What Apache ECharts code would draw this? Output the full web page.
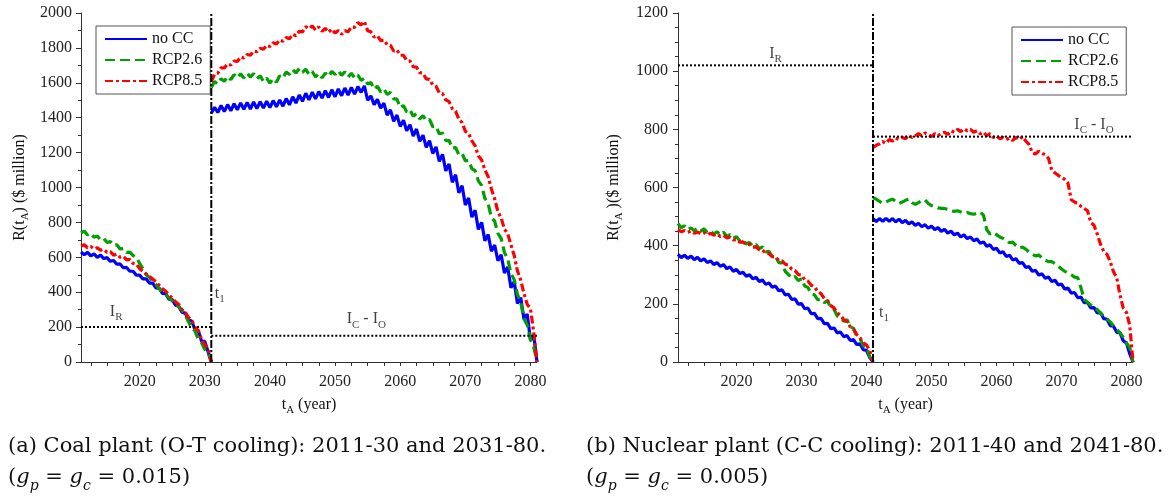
<!DOCTYPE html>
<html>
<head>
<meta charset="utf-8">
<title>R(tA) coal vs nuclear</title>
<script src="https://cdn.jsdelivr.net/npm/echarts@6/dist/echarts.min.js"></script>
<style>
  html, body { margin: 0; padding: 0; background: #fff; }
  #chart { width: 1168px; height: 499px; }
</style>
</head>
<body>
<div id="chart"></div>
<script>
// ---- data (values every half year) ----
const scenarios = ['no CC', 'RCP2.6', 'RCP8.5'];
const labelYears = [2020, 2030, 2040, 2050, 2060, 2070, 2080];
const tickYears = [2012.5, 2015, 2017.5, 2020, 2022.5, 2025, 2027.5, 2030, 2032.5, 2035, 2037.5, 2040,
  2042.5, 2045, 2047.5, 2050, 2052.5, 2055, 2057.5, 2060, 2062.5, 2065, 2067.5, 2070, 2072.5, 2075, 2077.5, 2080];

// (a) coal plant: first period 2011-2031, second period 2031-2081
const coalT1 = 2031, coalIR = 200, coalICIO = 150;
const coalNoCC1 = [630,615,628,608,620,600,612,593,598,577,582,560,562,540,542,520,520,497,498,476,
  477,452,452,425,423,393,392,360,358,325,320,285,280,240,235,185,180,120,118,60,0];
const coalRcp26_1 = [740,750,728,738,715,722,700,708,685,690,668,672,648,650,628,630,610,600,565,535,
  500,485,460,445,420,400,385,370,350,335,318,298,270,230,195,178,130,112,72,58,0];
const coalRcp85_1 = [665,672,655,662,648,655,640,645,628,632,612,618,600,605,585,588,565,560,535,520,
  505,490,475,460,440,420,405,385,365,345,330,300,285,255,240,200,180,130,100,75,0];
const coalNoCC2 = [1425,1460,1430,1470,1435,1475,1440,1480,1445,1485,
  1448,1488,1450,1490,1452,1492,1455,1494,1458,1498,
  1462,1502,1466,1510,1474,1520,1484,1530,1494,1540,
  1502,1546,1508,1550,1512,1555,1516,1560,1520,1565,
  1526,1570,1530,1574,1535,1578,1545,1582,1500,1525,
  1475,1505,1455,1483,1415,1445,1380,1415,1350,1385,
  1325,1360,1295,1335,1265,1300,1230,1268,1195,1233,
  1150,1190,1095,1135,1030,1073,970,1010,900,940,
  830,870,760,800,695,730,635,670,580,615,
  510,545,425,460,335,370,245,275,125,155,0];
const coalRcp26_2 = [1573,1607,1593,1624,1608,1637,1618,1647,1628,1652,
  1628,1655,1633,1652,1623,1640,1608,1627,1598,1624,
  1603,1640,1628,1662,1648,1676,1656,1682,1660,1678,
  1648,1665,1633,1654,1628,1656,1636,1666,1648,1670,
  1643,1662,1633,1655,1628,1645,1613,1627,1593,1602,
  1563,1580,1548,1565,1533,1545,1508,1507,1458,1470,
  1433,1445,1408,1424,1393,1412,1383,1390,1348,1352,
  1308,1312,1268,1270,1223,1230,1188,1195,1153,1155,
  1108,1097,1038,1012,938,907,828,807,738,707,
  628,592,508,472,388,342,248,212,128,87,0];
const coalRcp85_2 = [1605,1650,1655,1685,1685,1708,1702,1725,1722,1748,
  1742,1762,1758,1782,1778,1798,1792,1815,1808,1830,
  1822,1845,1838,1860,1852,1878,1870,1895,1892,1922,
  1910,1925,1902,1920,1895,1912,1890,1908,1885,1900,
  1878,1898,1892,1920,1918,1945,1932,1952,1898,1892,
  1862,1870,1842,1845,1818,1815,1782,1788,1758,1758,
  1728,1725,1692,1690,1658,1655,1622,1620,1588,1580,
  1542,1538,1502,1492,1452,1438,1392,1372,1322,1310,
  1268,1238,1182,1158,1102,1062,992,935,862,825,
  762,735,672,610,522,470,392,330,305,170,0];

// (b) nuclear plant: first period 2011-2041, second period 2041-2081
const nucT1 = 2041, nucIR = 1020, nucICIO = 775;
const nucNoCC1 = [370,359,367,356,364,352,360,348,355,342,348,335,342,329,335,321,327,312,318,304,
  309,295,300,286,291,277,282,267,272,257,261,245,248,231,233,215,217,199,201,183,
  185,166,167,149,150,132,133,115,117,100,103,87,91,74,77,60,63,42,40,15,0];
const nucRcp26_1 = [476,462,468,455,461,451,461,450,458,445,451,440,448,437,446,432,438,425,431,416,
  421,406,411,398,404,390,396,378,381,362,364,342,341,311,301,288,294,280,286,261,
  256,234,231,214,216,204,211,186,181,158,154,140,146,121,116,89,81,56,51,18,0];
const nucRcp85_1 = [455,448,452,446,450,443,447,440,445,438,442,436,440,432,435,427,429,420,421,412,
  413,404,405,395,396,386,385,374,373,362,361,349,348,336,333,319,315,301,298,283,
  278,264,258,242,235,218,211,194,186,169,161,145,138,121,113,94,83,66,58,40,0];
const nucNoCC2 = [493,483,493,484,494,484,493,482,491,479,487,475,482,470,477,465,472,460,467,455,
  462,449,456,443,450,437,443,430,437,424,430,417,423,408,413,398,403,387,391,375,
  379,363,367,351,355,339,342,325,328,312,315,299,303,288,292,277,281,265,268,251,
  254,237,239,221,223,204,205,186,187,169,170,149,147,125,123,102,100,73,65,28,0];
const nucRcp26_2 = [565,560,552,546,550,556,560,552,545,550,556,560,548,542,548,555,558,545,538,535,
  530,528,528,525,520,518,520,516,512,514,510,508,512,515,505,455,440,445,438,430,
  425,418,410,412,400,392,395,388,378,370,365,368,358,350,345,345,338,330,320,312,
  305,300,292,290,255,215,205,196,188,180,168,158,148,138,124,112,100,85,65,50,0];
const nucRcp85_2 = [738,745,750,758,752,765,760,770,765,772,768,780,772,778,785,778,788,782,775,785,
  778,786,790,782,795,790,800,792,802,795,800,790,795,785,790,778,785,772,778,768,
  772,765,770,762,772,765,775,760,748,720,715,725,718,712,700,660,650,642,635,628,
  615,558,550,545,535,528,520,480,470,440,405,380,370,345,310,290,230,185,170,125,0];

// ---- styling ----
const SERIF = '"Liberation Serif", "DejaVu Serif", serif';
const CAP_FONT = '"DejaVu Serif", serif';
const colors = ['#0000ff', '#00a000', '#ff0000'];
const dashes = ['solid', [10, 5], [8, 3, 3, 3]];
const subRich = {
  b: { fontFamily: SERIF, fontSize: 16, color: '#111', lineHeight: 22 },
  s: { fontFamily: SERIF, fontSize: 11, color: '#111', lineHeight: 10, verticalAlign: 'bottom' }
};

function pts(arr, start) {
  return arr.map((v, i) => [start + i * 0.5, v]);
}

function lineSeries(gi, k, arr, start) {
  return {
    name: scenarios[k], type: 'line', xAxisIndex: gi, yAxisIndex: gi,
    data: pts(arr, start), symbol: 'none', showSymbol: false, z: 3 + k,
    lineStyle: { color: colors[k], width: 3.2, type: dashes[k] },
    itemStyle: { color: colors[k] }
  };
}

function refLine(gi, data, type) {
  return {
    type: 'line', xAxisIndex: gi, yAxisIndex: gi, data: data, symbol: 'none', z: 6,
    lineStyle: { color: '#000', width: 2, type: type }, silent: true
  };
}

function note(gi, x, y, text) {
  return {
    type: 'scatter', xAxisIndex: gi, yAxisIndex: gi, symbolSize: 1, silent: true, z: 8,
    itemStyle: { color: 'rgba(0,0,0,0)' },
    data: [[x, y]],
    label: { show: true, position: 'inside', formatter: text, rich: subRich }
  };
}

function xAx(gi) {
  return {
    type: 'value', gridIndex: gi, min: 2011, max: 2081,
    splitLine: { show: false },
    axisLine: { lineStyle: { color: '#333', width: 1 } },
    axisTick: { customValues: tickYears, length: 4, lineStyle: { color: '#333' } },
    axisLabel: {
      customValues: labelYears, fontFamily: SERIF, fontSize: 16, color: '#222', margin: 12,
      formatter: (v) => String(v)
    },
    name: '{b|t}{s|A}{b| (year)}', nameLocation: 'middle', nameGap: 32,
    nameTextStyle: { rich: subRich }
  };
}

function yAx(gi, max, minorSplit, nameText, gap, labelMargin) {
  return {
    type: 'value', gridIndex: gi, min: 0, max: max, interval: 200,
    splitLine: { show: false },
    axisLine: { show: true, lineStyle: { color: '#333', width: 1 } },
    axisTick: { length: 5, lineStyle: { color: '#333' } },
    minorTick: { show: true, splitNumber: minorSplit, length: 3, lineStyle: { color: '#333' } },
    axisLabel: {
      fontFamily: SERIF, fontSize: 16, color: '#222', margin: labelMargin,
      formatter: (v) => String(v)
    },
    name: nameText, nameLocation: 'middle', nameRotate: 90, nameGap: gap,
    nameTextStyle: { rich: subRich }
  };
}

function legendAt(left, top) {
  return {
    data: scenarios, orient: 'vertical', left: left, top: top,
    itemWidth: 42, itemHeight: 14, itemGap: 5, padding: [5, 8, 5, 8],
    borderColor: '#555', borderWidth: 1, backgroundColor: '#fff',
    itemStyle: { opacity: 0 },
    lineStyle: { opacity: 1 },
    textStyle: { fontFamily: SERIF, fontSize: 16, color: '#111' }
  };
}

const captionRich = {
  g: { fontFamily: CAP_FONT, fontSize: 21, fontStyle: 'italic', color: '#111', lineHeight: 31 },
  s: { fontFamily: CAP_FONT, fontSize: 14, fontStyle: 'italic', color: '#111', lineHeight: 20, verticalAlign: 'bottom' }
};

const series = [];
[[coalNoCC1, coalNoCC2], [coalRcp26_1, coalRcp26_2], [coalRcp85_1, coalRcp85_2]].forEach((pair, k) => {
  series.push(lineSeries(0, k, pair[0], 2011));
  series.push(lineSeries(0, k, pair[1], coalT1));
});
[[nucNoCC1, nucNoCC2], [nucRcp26_1, nucRcp26_2], [nucRcp85_1, nucRcp85_2]].forEach((pair, k) => {
  series.push(lineSeries(1, k, pair[0], 2011));
  series.push(lineSeries(1, k, pair[1], nucT1));
});

// t1 marker and investment levels
series.push(refLine(0, [[coalT1, 0], [coalT1, 2000]], [8, 2, 2, 2]));
series.push(refLine(0, [[2011, coalIR], [coalT1, coalIR]], [2, 2]));
series.push(refLine(0, [[coalT1, coalICIO], [2081, coalICIO]], [2, 2]));
series.push(refLine(1, [[nucT1, 0], [nucT1, 1200]], [8, 2, 2, 2]));
series.push(refLine(1, [[2011, nucIR], [nucT1, nucIR]], [2, 2]));
series.push(refLine(1, [[nucT1, nucICIO], [2081, nucICIO]], [2, 2]));

series.push(note(0, 2016.4, 290, '{b|I}{s|R}'));
series.push(note(0, 2054.8, 245, '{b|I}{s|C}{b| - I}{s|O}'));
series.push(note(0, 2032.3, 390, '{b|t}{s|1}'));
series.push(note(1, 2026.0, 1060, '{b|I}{s|R}'));
series.push(note(1, 2075.0, 815, '{b|I}{s|C}{b| - I}{s|O}'));
series.push(note(1, 2042.7, 170, '{b|t}{s|1}'));

const chart = echarts.init(document.getElementById('chart'));
chart.setOption({
  animation: false,
  backgroundColor: '#fff',
  title: [
    {
      left: 3, top: 426,
      text: '(a) Coal plant (O-T cooling): 2011-30 and 2031-80.\n({g|g}{s|p} = {g|g}{s|c} = 0.015)',
      textStyle: { fontFamily: CAP_FONT, fontSize: 21, fontWeight: 'normal', color: '#111', lineHeight: 31, rich: captionRich }
    },
    {
      left: 581, top: 426,
      text: '(b) Nuclear plant (C-C cooling): 2011-40 and 2041-80.\n({g|g}{s|p} = {g|g}{s|c} = 0.005)',
      textStyle: { fontFamily: CAP_FONT, fontSize: 21, fontWeight: 'normal', color: '#111', lineHeight: 31, rich: captionRich }
    }
  ],
  legend: [legendAt(96, 26), legendAt(1012, 27)],
  grid: [
    { left: 81, top: 13, width: 456, height: 349 },
    { left: 678, top: 13, width: 455, height: 349 }
  ],
  xAxis: [xAx(0), xAx(1)],
  yAxis: [
    yAx(0, 2000, 2, '{b|R(t}{s|A}{b|) ($ million)}', 50, 9),
    yAx(1, 1200, 4, '{b|R(t}{s|A}{b| )($ million)}', 53, 10)
  ],
  series: series
});
</script>
</body>
</html>
